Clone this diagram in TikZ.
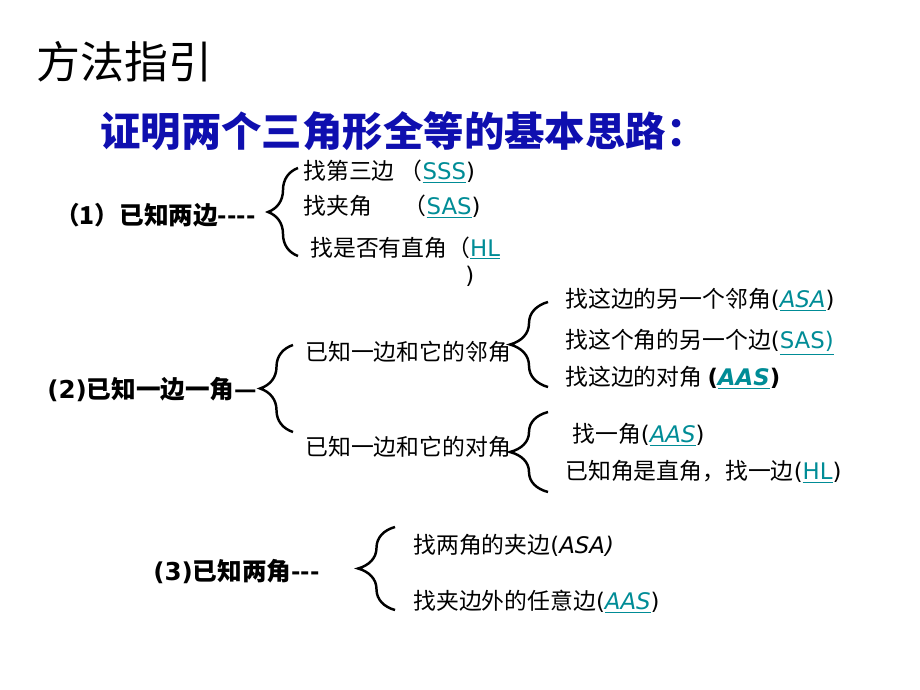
\documentclass[tikz,border=0pt]{standalone}
\usepackage{fontspec}
\setmainfont{Noto Sans CJK SC}
\newfontfamily\lat{DejaVu Sans}
\usetikzlibrary{decorations.pathreplacing}
\definecolor{headblue}{RGB}{15,15,175}
\definecolor{linkteal}{RGB}{0,140,150}
\newcommand{\lnk}[1]{\textcolor{linkteal}{\underline{\lat #1}}}
\newcommand{\lp}{{\lat (}}
\newcommand{\rp}{{\lat )}}

\begin{document}
\begin{tikzpicture}[x=0.02cm,y=-0.02cm,
    txt/.style={anchor=west,inner sep=0pt,font=\fontsize{13}{15}\selectfont},
    lbl/.style={anchor=west,inner sep=0pt,font=\fontsize{14}{16}\selectfont\bfseries},
    brc/.style={decorate,decoration={brace,amplitude=#1},line width=1.4pt}]
    \useasboundingbox (0,0) rectangle (920,690);
    \node [anchor=west,inner sep=0pt,font=\fontsize{25}{28}\selectfont] (title) at (36,62) {方法指引};
    \node [anchor=west,inner sep=0pt,text=headblue,font=\fontsize{23}{27}\selectfont\bfseries] (head) at (100,131) {证明两个三角形全等的基本思路：};
    % (1) two sides
    \node [lbl] (twosides) at (55,215) {（1）已知两边{-}{-}{-}{-}};
    \coordinate (b1top) at (298,168);
    \coordinate (b1bot) at (298,256);
    \draw [brc=0.6cm] (b1bot) -- (b1top);
    \node [txt] (sss) at (303,172) {找第三边 （\lnk{SSS}\rp};
    \node [txt] (sas1) at (303,207) {找夹角\hspace{1.4em}（\lnk{SAS}\rp};
    \node [txt] (hl1) at (310,248) {找是否有直角（\lnk{HL}};
    \node [txt] (hlclose) at (465,276) {\rp};
    % (2) one side one angle
    \node [lbl] (sideangle) at (47,390) {{\lat\bfseries (2)}已知一边一角—};
    \coordinate (b2top) at (293,345);
    \coordinate (b2bot) at (293,432);
    \draw [brc=0.66cm] (b2bot) -- (b2top);
    \node [txt] (adj) at (305,352) {已知一边和它的邻角};
    \node [txt] (opp) at (305,447) {已知一边和它的对角};
    \coordinate (b3top) at (548,302);
    \coordinate (b3bot) at (548,387);
    \draw [brc=0.76cm] (b3bot) -- (b3top);
    \node [txt] (asa1) at (565,300) {找这边的另一个邻角\lp\lnk{\itshape ASA}\rp};
    \node [txt] (sas2) at (565,342) {找这个角的另一个边\lp\lnk{SAS)}};
    \node [txt] (aas1) at (565,378) {找这边的对角 {\lat\bfseries (}\lnk{\bfseries\itshape AAS}{\lat\bfseries )}};
    \coordinate (b4top) at (548,412);
    \coordinate (b4bot) at (548,492);
    \draw [brc=0.76cm] (b4bot) -- (b4top);
    \node [txt] (aas2) at (572,435) {找一角\lp\lnk{\itshape AAS}\rp};
    \node [txt] (hl2) at (565,472) {已知角是直角，找一边\lp\lnk{HL}\rp};
    % (3) two angles
    \node [lbl] (twoangles) at (153,572) {{\lat\bfseries (3)}已知两角{-}{-}{-}};
    \coordinate (b5top) at (395,527);
    \coordinate (b5bot) at (395,610);
    \draw [brc=0.74cm] (b5bot) -- (b5top);
    \node [txt] (asa2) at (413,545) {找两角的夹边{\lat (\itshape ASA)}};
    \node [txt] (aas3) at (413,602) {找夹边外的任意边\lp\lnk{\itshape AAS}\rp};
\end{tikzpicture}
\end{document}
